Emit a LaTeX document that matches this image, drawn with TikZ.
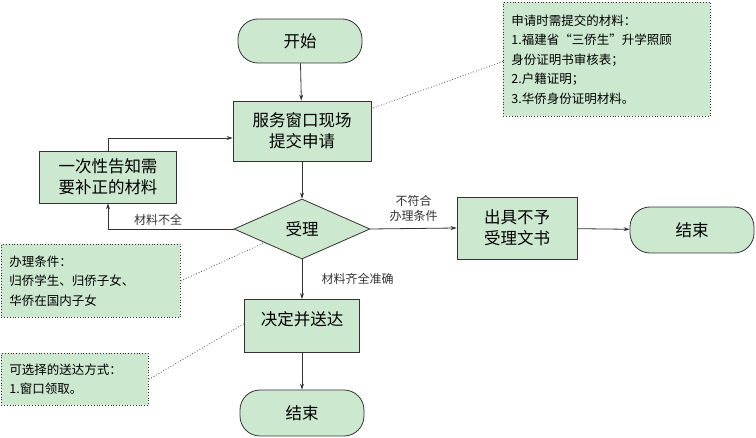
\documentclass[tikz,border=0pt]{standalone}
\usepackage{fontspec}
\setmainfont{Noto Sans CJK SC}
\usetikzlibrary{shapes.geometric,arrows.meta}
\definecolor{fillg}{HTML}{CCE8CF}
\begin{document}
\begin{tikzpicture}[x=1pt,y=-1pt,
  box/.style={draw=black!80,fill=fillg,line width=0.8pt,font=\fontsize{16.5}{21}\selectfont,align=center,inner sep=0pt},
  pill/.style={box,rounded corners=20pt},
  note/.style={draw=black!80,fill=fillg,dotted,line width=0.8pt,font=\fontsize{12.5}{19.5}\selectfont,align=left,inner xsep=8pt,inner ysep=4pt,anchor=north west},
  arr/.style={-{Stealth[length=6pt,width=4pt]},line width=0.8pt,black!80},
  lead/.style={dotted,line width=0.8pt,black!70},
  lbl/.style={font=\fontsize{12}{15}\selectfont,align=center}]
\useasboundingbox (0,0) rectangle (756,438);
\node[pill,minimum width=124pt,minimum height=44pt] (start) at (300,41) {开始};
\node[box,minimum width=138pt,minimum height=60pt] (apply) at (302,131) {服务窗口现场\\提交申请};
\node[box,minimum width=137pt,minimum height=52pt] (fix) at (108,177) {一次性告知需\\要补正的材料};
\node[diamond,box,minimum width=136pt,minimum height=60pt,aspect=2.3] (acc) at (302,229) {受理};
\node[box,minimum width=120pt,minimum height=62pt] (rej) at (517,228) {出具不予\\受理文书};
\node[pill,minimum width=124pt,minimum height=46pt] (end1) at (692,230) {结束};
\node[box,minimum width=115pt,minimum height=53pt,text depth=14pt] (dec) at (302,326) {决定并送达};
\node[pill,minimum width=124pt,minimum height=46pt] (end2) at (302,413) {结束};
\node[note,text width=191pt,minimum height=114pt] (n1) at (503,2) {申请时需提交的材料：\\1.福建省“三侨生”升学照顾\\身份证明书审核表；\\2.户籍证明；\\3.华侨身份证明材料。};
\node[note,text width=163pt,minimum height=73pt] (n2) at (1,244) {办理条件：\\归侨学生、归侨子女、\\华侨在国内子女};
\node[note,text width=131pt,minimum height=52pt] (n3) at (1,353) {可选择的送达方式：\\1.窗口领取。};
\draw[arr] (start) -- (apply);
\draw[arr] (apply) -- (acc);
\draw[arr] (acc.west) -| (fix.south) node[lbl,pos=0.3,above] {材料不全};
\draw[arr] (fix.north) |- ([yshift=-7pt]apply.west);
\draw[arr] (acc.east) -- (rej.west) node[lbl,midway,above,yshift=3pt] {不符合\\办理条件};
\draw[arr] (rej) -- (end1);
\draw[arr] (acc.south) -- (dec.north) node[lbl,midway,right,xshift=16pt] {材料齐全准确};
\draw[arr] (dec) -- (end2);
\coordinate (c1) at (373,108);
\coordinate (c2) at (266,242);
\coordinate (c3) at (245,323);
\draw[lead] (n1.west) ++(0,2) -- (c1);
\draw[lead] (n2.east) -- (c2);
\draw[lead] (n3.east) -- (c3);
\end{tikzpicture}
\end{document}
